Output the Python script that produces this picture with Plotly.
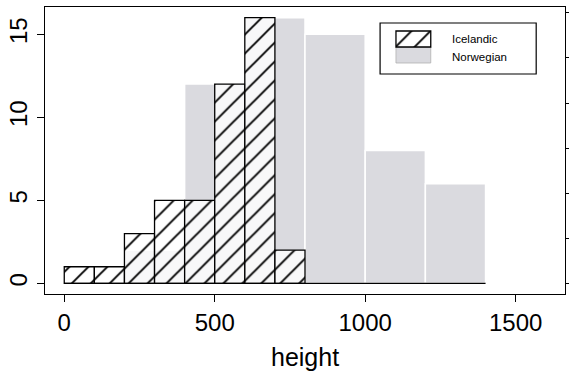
import plotly.graph_objects as go

# ---- data ----
ice_edges = [0, 100, 200, 300, 400, 500, 600, 700, 800]
ice_counts = [1, 1, 3, 5, 5, 12, 16, 2]
nor_edges = [0, 200, 400, 600, 800, 1000, 1200, 1400]
nor_counts = [0, 2, 12, 16, 15, 8, 6]
x_ticks = [0, 500, 1000, 1500]
y_ticks = [0, 5, 10, 15]
series_names = ["Icelandic", "Norwegian"]

FONT = "Liberation Sans, Arial, Helvetica, sans-serif"
GREY = "#dadadf"
HATCH = dict(shape="/", fillmode="overlay", fgcolor="black", fgopacity=1,
             size=13.4, solidity=0.14)

def centers(edges):
    return [(a + b) / 2 for a, b in zip(edges[:-1], edges[1:])]

def widths(edges):
    return [b - a for a, b in zip(edges[:-1], edges[1:])]

fig = go.Figure()

# Norwegian (grey, behind)
fig.add_trace(go.Bar(
    x=centers(nor_edges), y=nor_counts, width=widths(nor_edges),
    marker=dict(color=GREY, line=dict(color="white", width=1.5)),
    name=series_names[1], showlegend=False,
))
# Icelandic (hatched, on top)
fig.add_trace(go.Bar(
    x=centers(ice_edges), y=ice_counts, width=widths(ice_edges),
    marker=dict(color="rgba(255,255,255,0.8)",
                line=dict(color="black", width=1.3),
                pattern=HATCH),
    name=series_names[0], showlegend=False,
))
# baseline across the histogram range
xmin = min(ice_edges[0], nor_edges[0])
xmax = max(ice_edges[-1], nor_edges[-1])
fig.add_trace(go.Scatter(x=[xmin, xmax], y=[0, 0], mode="lines",
                         line=dict(color="black", width=1.3),
                         showlegend=False, hoverinfo="skip"))
# invisible trace so the right-hand tick axis is drawn
fig.add_trace(go.Scatter(x=[0], y=[0], yaxis="y2", mode="markers",
                         marker=dict(opacity=0), showlegend=False, hoverinfo="skip"))

# custom legend swatches on a small hidden subplot
fig.add_trace(go.Bar(x=[0], y=[1], base=[0], width=[1], xaxis="x3", yaxis="y3",
                     marker=dict(color=GREY, line=dict(color="#b0b0b0", width=0.8)),
                     showlegend=False, hoverinfo="skip"))
fig.add_trace(go.Bar(x=[0], y=[1], base=[1], width=[1], xaxis="x3", yaxis="y3",
                     marker=dict(color="white", line=dict(color="black", width=1.3),
                                 pattern=HATCH),
                     showlegend=False, hoverinfo="skip"))

axis_common = dict(showgrid=False, zeroline=False, showline=True, linecolor="black",
                   linewidth=1.2, ticks="outside", tickcolor="black", tickwidth=1.2,
                   tickfont=dict(family=FONT, size=24, color="black"))

fig.update_layout(
    width=571, height=373,
    margin=dict(l=45, r=3, t=7, b=79),
    paper_bgcolor="white", plot_bgcolor="white",
    barmode="overlay", showlegend=False,
    xaxis=dict(range=[-64, 1664], tickvals=x_ticks, ticklen=7, mirror=True, **axis_common),
    yaxis=dict(range=[-0.64, 16.64], tickvals=y_ticks, ticklen=7, tickangle=-90,
               mirror=True, **axis_common),
    yaxis2=dict(overlaying="y", side="right", range=[-0.233, 6.13], dtick=1,
                ticks="outside", ticklen=3, tickcolor="black", tickwidth=1,
                showticklabels=False, showgrid=False, zeroline=False, showline=False),
    xaxis3=dict(domain=[0.6716, 0.7452], range=[-0.55, 0.55], visible=False, anchor="y3"),
    yaxis3=dict(domain=[0.7993, 0.9220], range=[-0.1, 2.1], visible=False, anchor="x3"),
    shapes=[dict(type="rect", xref="paper", yref="paper",
                 x0=0.6444, x1=0.9446, y0=0.7666, y1=0.9443,
                 line=dict(color="black", width=1.2), fillcolor="rgba(0,0,0,0)",
                 layer="above")],
    annotations=[
        dict(text=series_names[0], xref="paper", yref="paper", x=0.7782, y=0.8885,
             xanchor="left", yanchor="middle", showarrow=False,
             font=dict(family=FONT, size=11.5, color="black")),
        dict(text=series_names[1], xref="paper", yref="paper", x=0.7782, y=0.8258,
             xanchor="left", yanchor="middle", showarrow=False,
             font=dict(family=FONT, size=11.5, color="black")),
        dict(text="height", xref="paper", yref="paper", x=0.5, y=-0.2195,
             xanchor="center", yanchor="middle", showarrow=False,
             font=dict(family=FONT, size=25, color="black")),
    ],
)

fig.write_html("out.html")
